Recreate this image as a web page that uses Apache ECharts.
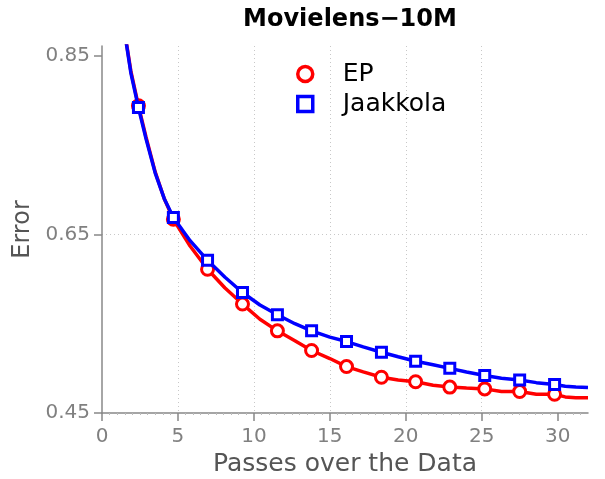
<!DOCTYPE html>
<html lang="en">
<head>
    <meta charset="UTF-8">
    <script src="https://cdn.jsdelivr.net/npm/echarts@6/dist/echarts.min.js"></script>
    <title>Movielens-10M</title>
    <style>
        html, body { margin: 0; padding: 0; background: #fff; }
        #main { width: 605px; height: 479px; }
    </style>
</head>
<body>
<div id="main"></div>
<script type="text/javascript">
    // passes over the data (x) for the curves
    var lineX = [1.5, 1.9, 2.4, 2.9, 3.5, 4.1, 4.7, 5.8, 6.95, 8.1, 9.25, 10.4, 11.55, 12.7, 13.8, 15.0,
        16.1, 17.2, 18.4, 19.5, 20.65, 21.8, 22.9, 24.0, 25.2, 26.3, 27.5, 28.6, 29.8, 30.5, 31.2, 32];
    var epLine = [0.876, 0.833, 0.794, 0.759, 0.720, 0.690, 0.667, 0.637, 0.611, 0.590, 0.572, 0.555,
        0.542, 0.531, 0.520, 0.511, 0.502, 0.496, 0.490, 0.487, 0.485, 0.481, 0.479, 0.478, 0.477,
        0.474, 0.474, 0.471, 0.471, 0.468, 0.467, 0.467];
    var jaakkolaLine = [0.875, 0.831, 0.792, 0.757, 0.719, 0.690, 0.669, 0.643, 0.621, 0.602, 0.585,
        0.571, 0.560, 0.550, 0.542, 0.535, 0.530, 0.524, 0.518, 0.513, 0.508, 0.504, 0.500, 0.496,
        0.492, 0.489, 0.487, 0.484, 0.482, 0.480, 0.479, 0.4785];

    // marker positions
    var markerX = [2.4, 4.7, 6.95, 9.25, 11.55, 13.8, 16.1, 18.4, 20.65, 22.9, 25.2, 27.5, 29.8];
    var epMarkers = [0.794, 0.667, 0.611, 0.572, 0.542, 0.520, 0.502, 0.490, 0.485, 0.479, 0.477, 0.474, 0.471];
    var jaakkolaMarkers = [0.792, 0.669, 0.621, 0.585, 0.560, 0.542, 0.530, 0.518, 0.508, 0.500, 0.492, 0.487, 0.482];

    var xTicks = [0, 5, 10, 15, 20, 25, 30];
    var yTicks = [0.45, 0.65, 0.85];

    function pairs(xs, ys) {
        return xs.map(function (x, i) { return [x, ys[i]]; });
    }

    var font = 'DejaVu Sans';
    var grey = '#808080';

    var myChart = echarts.init(document.getElementById('main'));
    var option = {
        animation: false,
        textStyle: { fontFamily: font },
        title: {
            text: 'Movielens\u221210M',
            left: 345,
            textAlign: 'center',
            top: 3,
            textStyle: { fontSize: 24, fontWeight: 'bold', color: '#000', fontFamily: font }
        },
        legend: {
            orient: 'vertical',
            left: 291,
            top: 56,
            itemWidth: 15,
            itemHeight: 15,
            itemGap: 4,
            textStyle: { fontSize: 25, color: '#000', lineHeight: 26, padding: [0, 0, 0, 25] },
            data: [
                { name: 'EP', icon: 'circle', itemStyle: { color: '#fff', borderColor: '#ff0000', borderWidth: 3.5, opacity: 1 } },
                { name: 'Jaakkola', icon: 'rect', itemStyle: { color: '#fff', borderColor: '#0000ff', borderWidth: 3.5, opacity: 1 } }
            ]
        },
        grid: { left: 102, right: 17, top: 46, bottom: 66, outerBoundsMode: 'none' },
        xAxis: {
            type: 'value',
            min: 0,
            max: 32,
            interval: 5,
            name: 'Passes over the Data',
            nameLocation: 'middle',
            nameGap: 33,
            nameTextStyle: { fontSize: 25, color: '#555' },
            axisLine: { show: true, lineStyle: { color: '#888', width: 1.5 } },
            axisTick: { show: true, length: 8, customValues: xTicks, lineStyle: { color: '#888', width: 1.5 } },
            minorTick: { show: true, splitNumber: 10, length: 2, lineStyle: { color: '#bbb' } },
            axisLabel: { fontSize: 20, color: grey, margin: 14, customValues: xTicks },
            splitLine: { show: true, showMinLine: false, showMaxLine: false, lineStyle: { color: '#c8c8c8', type: [1, 3], width: 1 } }
        },
        yAxis: {
            type: 'value',
            min: 0.45,
            max: 0.861,
            interval: 0.2,
            name: 'Error',
            nameLocation: 'middle',
            nameGap: 66,
            nameTextStyle: { fontSize: 24, color: '#555' },
            axisLine: { show: true, lineStyle: { color: '#888', width: 1.5 } },
            axisTick: { show: true, length: 8, customValues: yTicks, lineStyle: { color: '#888', width: 1.5 } },
            axisLabel: {
                fontSize: 20, color: grey, margin: 12, customValues: yTicks,
                formatter: function (v) { return v.toFixed(2); }
            },
            splitLine: { show: true, showMinLine: false, showMaxLine: false, lineStyle: { color: '#c8c8c8', type: [1, 3], width: 1 } }
        },
        series: [
            {
                name: 'EP curve',
                type: 'line',
                data: pairs(lineX, epLine),
                showSymbol: false,
                silent: true,
                lineStyle: { color: '#ff0000', width: 3.5 },
                z: 2
            },
            {
                name: 'EP',
                type: 'scatter',
                data: pairs(markerX, epMarkers),
                symbol: 'circle',
                symbolSize: 12,
                itemStyle: { color: '#fff', borderColor: '#ff0000', borderWidth: 3, opacity: 1 },
                z: 3
            },
            {
                name: 'Jaakkola curve',
                type: 'line',
                data: pairs(lineX, jaakkolaLine),
                showSymbol: false,
                silent: true,
                lineStyle: { color: '#0000ff', width: 3.5 },
                z: 4
            },
            {
                name: 'Jaakkola',
                type: 'scatter',
                data: pairs(markerX, jaakkolaMarkers),
                symbol: 'rect',
                symbolSize: 10,
                itemStyle: { color: '#fff', borderColor: '#0000ff', borderWidth: 3, opacity: 1 },
                z: 5
            }
        ]
    };
    myChart.setOption(option);
</script>
</body>
</html>
